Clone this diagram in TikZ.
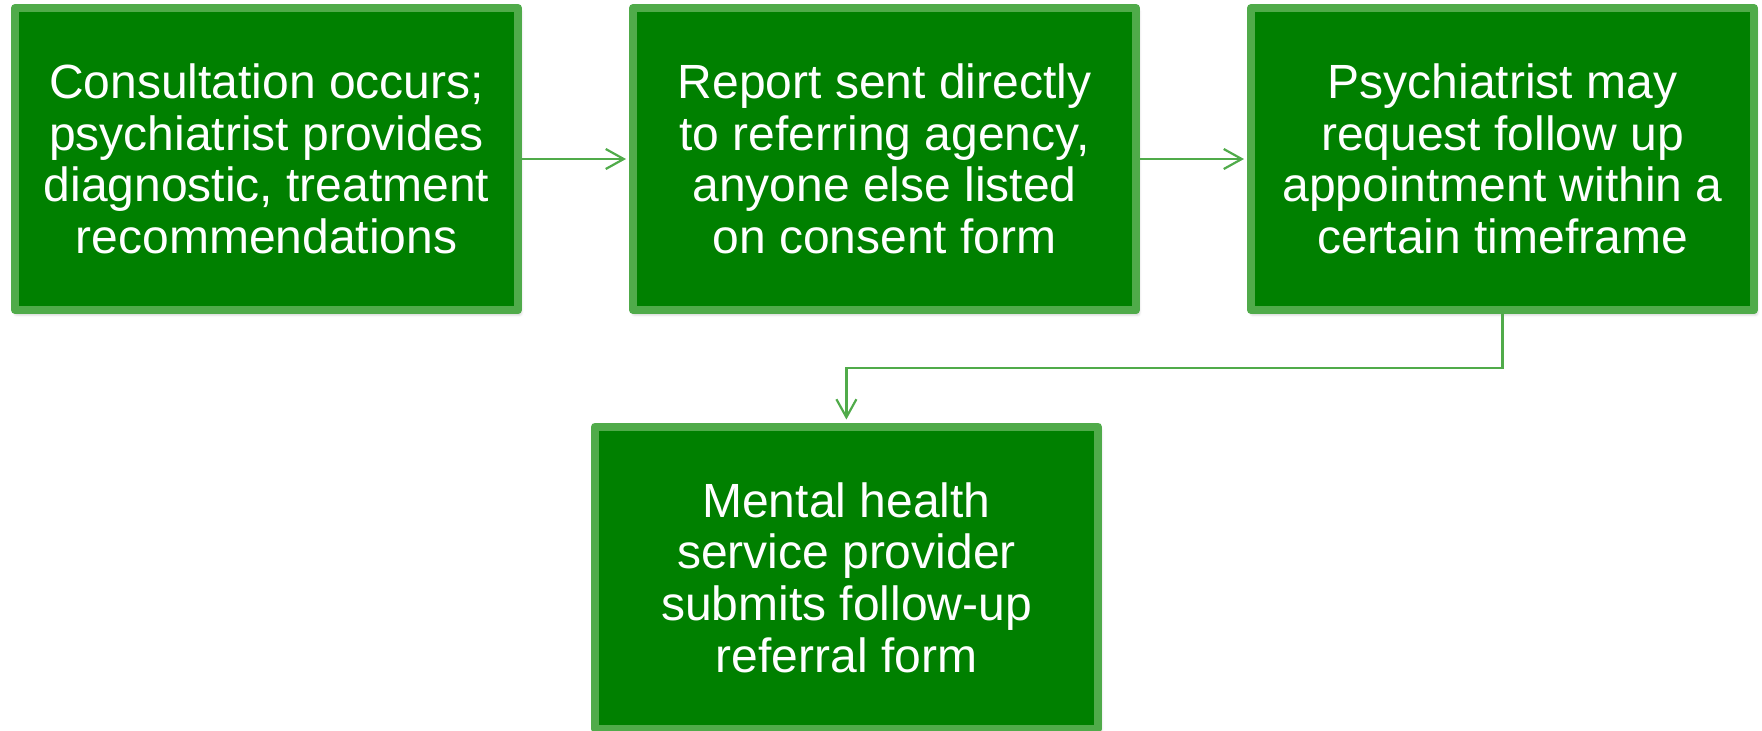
\documentclass[tikz,border=0pt]{standalone}
\usepackage{fontspec}
\setmainfont{Liberation Sans}
\usetikzlibrary{arrows.meta,shadows.blur}
\definecolor{boxfill}{RGB}{0,128,0}
\definecolor{boxedge}{RGB}{80,171,74}
\tikzset{
  stepbox/.style={
    rectangle, draw=boxedge, fill=boxfill, line width=4pt, line join=round,
    minimum width=251.5pt, minimum height=151pt, inner sep=0pt,
    text=white, align=center,
    font=\fontsize{24}{25.8}\selectfont,
    blur shadow={shadow xshift=0.8pt, shadow yshift=-1.6pt,
                 shadow blur radius=2pt, shadow blur steps=6, shadow opacity=35}
  },
  conn/.style={draw=boxedge, line width=1.1pt,
    -{Straight Barb[length=9pt,width=10pt,line width=1.1pt]}, shorten >=1.5pt}
}
\begin{document}
\begin{tikzpicture}[x=0.5pt,y=-0.5pt]
  \useasboundingbox (0,0) rectangle (1762,730);

  \node[stepbox] (b1) at (266.5,159) {Consultation occurs;\\psychiatrist provides\\diagnostic, treatment\\recommendations};
  \node[stepbox] (b2) at (884.5,159) {Report sent directly\\to referring agency,\\anyone else listed\\on consent form};
  \node[stepbox] (b3) at (1502.5,159) {Psychiatrist may\\request follow up\\appointment within a\\certain timeframe};
  \node[stepbox] (b4) at (846.4,577.5) {Mental health\\service provider\\submits follow-up\\referral form};

  \coordinate (bend) at (0,368);

  \draw[conn] (b1) -- (b2);
  \draw[conn] (b2) -- (b3);
  \draw[conn] (b3.south) -- (b3.south |- bend) -- (bend -| b4.north) -- (b4.north);
\end{tikzpicture}
\end{document}
